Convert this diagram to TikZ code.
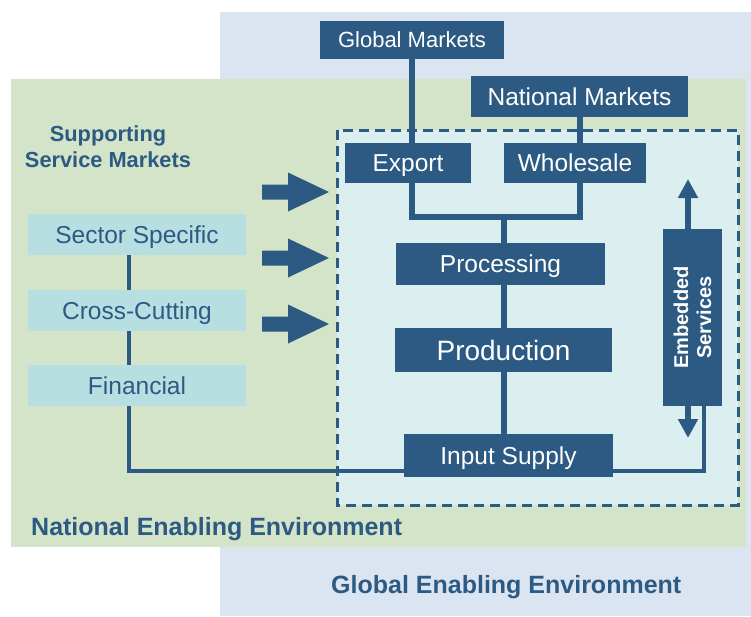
\documentclass[tikz,border=0pt]{standalone}
\usepackage{fontspec}
\setmainfont{Liberation Sans}
\usetikzlibrary{arrows.meta,positioning,calc}
\definecolor{chain}{RGB}{44,90,131}
\definecolor{globalenv}{RGB}{219,229,241}
\definecolor{nationalenv}{RGB}{211,228,201}
\definecolor{chainfill}{RGB}{219,238,240}
\definecolor{svcfill}{RGB}{183,223,226}

\begin{document}
\begin{tikzpicture}[x=1pt, y=-1pt,
  mkt/.style={fill=chain, text=white, inner sep=0pt, text height=17.5pt, text depth=0pt, font=\fontsize{24.5}{28}\selectfont},
  svc/.style={fill=svcfill, text=chain, inner sep=0pt, text height=17.5pt, text depth=0pt, minimum width=218pt, minimum height=41pt, font=\fontsize{24.5}{28}\selectfont},
  lbl/.style={text=chain, inner sep=0pt, font=\bfseries\fontsize{25}{28}\selectfont},
  link/.style={draw=chain, line width=6pt},
  feed/.style={draw=chain, line width=4pt},
  emarr/.style={draw=chain, line width=6pt, -{Triangle[width=19pt,length=19pt]}},
]
\useasboundingbox (0,0) rectangle (751,616);
% environments
\fill[globalenv] (220,12) rectangle (751,616);
\fill[nationalenv] (11,79) rectangle (746,547);
\draw[chain, line width=3pt, dash pattern=on 10pt off 6pt, fill=chainfill] (337,130) rectangle (738,505);

% market chain
\node[mkt, minimum width=184pt, minimum height=38pt, text height=15.8pt, font=\fontsize{22}{26}\selectfont] (gm) at (412,40) {Global Markets};
\node[mkt, minimum width=217pt, minimum height=41pt] (nm) at (579.5,96.5) {National Markets};
\node[mkt, minimum width=126pt, minimum height=40pt] (exp) at (408,163) {Export};
\node[mkt, minimum width=142pt, minimum height=40pt] (ws) at (575,163) {Wholesale};
\node[mkt, minimum width=209pt, minimum height=42pt] (proc) at (500.5,264) {Processing};
\node[mkt, minimum width=217pt, minimum height=44pt, text height=20pt, font=\fontsize{28}{32}\selectfont] (prod) at (503.5,350) {Production};
\node[mkt, minimum width=209pt, minimum height=43pt] (inp) at (508.5,455.5) {Input Supply};
\node[fill=chain, inner sep=0pt, minimum width=59pt, minimum height=177pt] (emb) at (692.5,317.5) {};
\node[rotate=90, text=white, inner sep=0pt, align=center, font=\bfseries\fontsize{20}{23}\selectfont] (embtxt) at (emb.center) {Embedded\\Services};

% service markets
\node[lbl, align=center, font=\bfseries\fontsize{21.8}{26}\selectfont] (ssm) at (108,147) {Supporting\\Service Markets};
\node[svc] (sec) at (137,234.5) {Sector Specific};
\node[svc] (cc) at (137,310.5) {Cross-Cutting};
\node[svc] (fin) at (137,385.5) {Financial};

% labels
\node[lbl, anchor=west, text height=17.9pt, text depth=0pt] (nee) at (31,527) {National Enabling Environment};
\node[lbl, anchor=west, text height=17.9pt, text depth=0pt] (gee) at (331,585) {Global Enabling Environment};

% block arrows
\foreach \y in {192,258,324}
  \fill[chain] (262,\y-7.5) -- (288,\y-7.5) -- (288,\y-19.5) -- (329,\y)
    -- (288,\y+19.5) -- (288,\y+7.5) -- (262,\y+7.5) -- cycle;

% links
\coordinate (jn) at (504,217);
\draw[link] (gm.south) -- (gm.south |- exp.north);
\draw[link] (nm.south) -- (nm.south |- ws.north);
\draw[link] (ws.south -| nm.south) |- (jn) -| (exp.south -| gm.south);
\draw[link] (jn) -- (jn |- proc.north);
\draw[link] (proc.south -| jn) -- (prod.north -| jn);
\draw[link] (prod.south -| jn) -- (inp.north -| jn);

\draw[feed] ([xshift=-8pt]sec.south) -- ([xshift=-8pt]cc.north);
\draw[feed] ([xshift=-8pt]cc.south) -- ([xshift=-8pt]fin.north);
\draw[feed] ([xshift=-8pt]fin.south) |- ([yshift=-15.5pt]inp.west);
\draw[feed] ([xshift=11.5pt]emb.south) |- ([yshift=-15.5pt]inp.east);

\coordinate (upt) at (688,179);
\coordinate (dnt) at (688,438);
\draw[emarr] (emb.north -| upt) -- (upt);
\draw[emarr] (emb.south -| dnt) -- (dnt);
\end{tikzpicture}
\end{document}
